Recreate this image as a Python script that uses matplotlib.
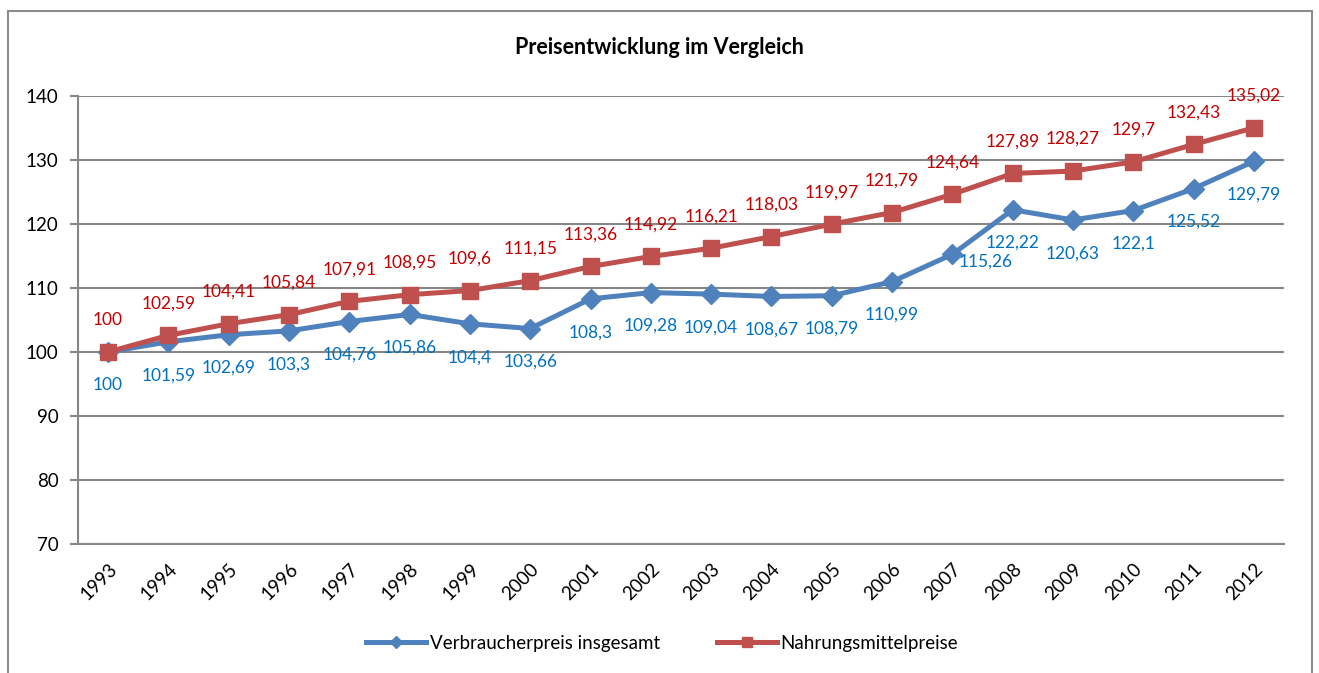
import matplotlib
matplotlib.use('Agg')
from matplotlib import pyplot as plt
from matplotlib.patches import Rectangle

plt.rcParams['font.family'] = ['Lato', 'DejaVu Sans']

years = ['1993', '1994', '1995', '1996', '1997', '1998', '1999', '2000', '2001', '2002',
         '2003', '2004', '2005', '2006', '2007', '2008', '2009', '2010', '2011', '2012']
verbraucher = [100, 101.59, 102.69, 103.3, 104.76, 105.86, 104.4, 103.66, 108.3, 109.28,
               109.04, 108.67, 108.79, 110.99, 115.26, 122.22, 120.63, 122.1, 125.52, 129.79]
nahrung = [100, 102.59, 104.41, 105.84, 107.91, 108.95, 109.6, 111.15, 113.36, 114.92,
           116.21, 118.03, 119.97, 121.79, 124.64, 127.89, 128.27, 129.7, 132.43, 135.02]
yticks = [70, 80, 90, 100, 110, 120, 130, 140]

blue = '#4F81BD'
red = '#C0504D'
blue_txt = '#0070C0'
red_txt = '#C00000'
grid = '#868686'

fig = plt.figure(figsize=(13.19, 6.73), dpi=100)
ax = fig.add_axes([0.0591, 0.1917, 0.9144, 0.6657])

# outer chart border
fig.patches.append(Rectangle((8 / 1319, -0.01), 1304 / 1319, 1 - 11 / 673 + 0.01,
                             transform=fig.transFigure, fill=False,
                             edgecolor='#8C8C8C', linewidth=1.5))

x = list(range(len(years)))
ax.plot(x, verbraucher, color=blue, linewidth=3.6, marker='D', markersize=10,
        label='Verbraucherpreis insgesamt', zorder=3)
ax.plot(x, nahrung, color=red, linewidth=3.6, marker='s', markersize=11,
        label='Nahrungsmittelpreise', zorder=3)

def fmt(v):
    return f'{v:g}'.replace('.', ',')

for i, v in enumerate(nahrung):
    ax.annotate(fmt(v), (i, v), xytext=(0, 23), textcoords='offset points',
                ha='center', va='center', color=red_txt, fontsize=12.5)
for i, v in enumerate(verbraucher):
    dx, dy = 0, -24
    if years[i] == '2007':
        dx, dy = 24, -5
    ax.annotate(fmt(v), (i, v), xytext=(dx, dy), textcoords='offset points',
                ha='center', va='center', color=blue_txt, fontsize=12.5)

ax.set_xlim(-0.5, len(years) - 0.5)
ax.set_ylim(70, 140)
ax.set_yticks(yticks)
ax.set_xticks(x)
ax.set_xticklabels(years, rotation=45, ha='right', rotation_mode='anchor')
ax.tick_params(axis='x', length=0, pad=12, labelsize=13.5)
ax.tick_params(axis='y', length=6, width=1.5, color=grid, pad=8, labelsize=13.5)
ax.yaxis.grid(True, color=grid, linewidth=1.5)
ax.set_axisbelow(True)
for s in ['top', 'right']:
    ax.spines[s].set_visible(False)
for s in ['left', 'bottom']:
    ax.spines[s].set_color(grid)
    ax.spines[s].set_linewidth(1.5)

fig.text(0.5, 1 - 47 / 673, 'Preisentwicklung im Vergleich', ha='center', va='center',
         fontsize=15.5, fontweight='bold')

fig.legend(loc='center', bbox_to_anchor=(0.502, 1 - 643 / 673), ncol=2, frameon=False,
           fontsize=13.5, handlelength=3.2, columnspacing=3.0, handletextpad=0.2,
           markerscale=0.6)

fig.savefig('out.png', dpi=100)
